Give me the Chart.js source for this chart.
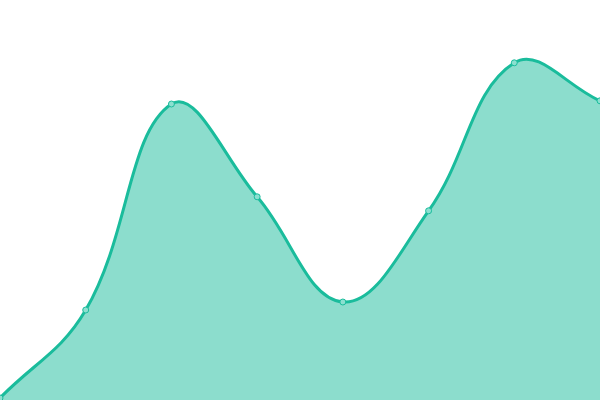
<!DOCTYPE html>
<html>
<head>
<meta charset="utf-8">
<script src="https://cdn.jsdelivr.net/npm/chart.js@4"></script>
<style>
  html, body { margin: 0; padding: 0; background: #fff; }
  #wrap { width: 600px; height: 400px; }
</style>
</head>
<body>
<div id="wrap"><canvas id="area-chart" width="600" height="400"></canvas></div>
<script>
  // Data (y scale 0..100)
  var labels = ['1', '2', '3', '4', '5', '6', '7', '8'];
  var values = [0.5, 22.5, 74, 50.8, 24.5, 47.3, 84.3, 74.8];

  var lineColor = '#1abc9c';
  var fillColor = 'rgba(26, 188, 156, 0.5)';

  var areaChart = new Chart(document.getElementById('area-chart'), {
    type: 'line',
    data: {
      labels: labels,
      datasets: [{
        data: values,
        borderColor: lineColor,
        borderWidth: 3,
        backgroundColor: fillColor,
        fill: true,
        tension: 0.4,
        pointRadius: 3,
        pointBorderWidth: 1,
        pointBorderColor: lineColor,
        pointBackgroundColor: 'rgba(140, 224, 208, 1)'
      }]
    },
    options: {
      responsive: false,
      animation: false,
      layout: { padding: 0, autoPadding: false },
      plugins: {
        legend: { display: false },
        tooltip: { enabled: false }
      },
      scales: {
        x: { display: false, offset: false },
        y: { display: false, min: 0, max: 100 }
      }
    }
  });
</script>
</body>
</html>
